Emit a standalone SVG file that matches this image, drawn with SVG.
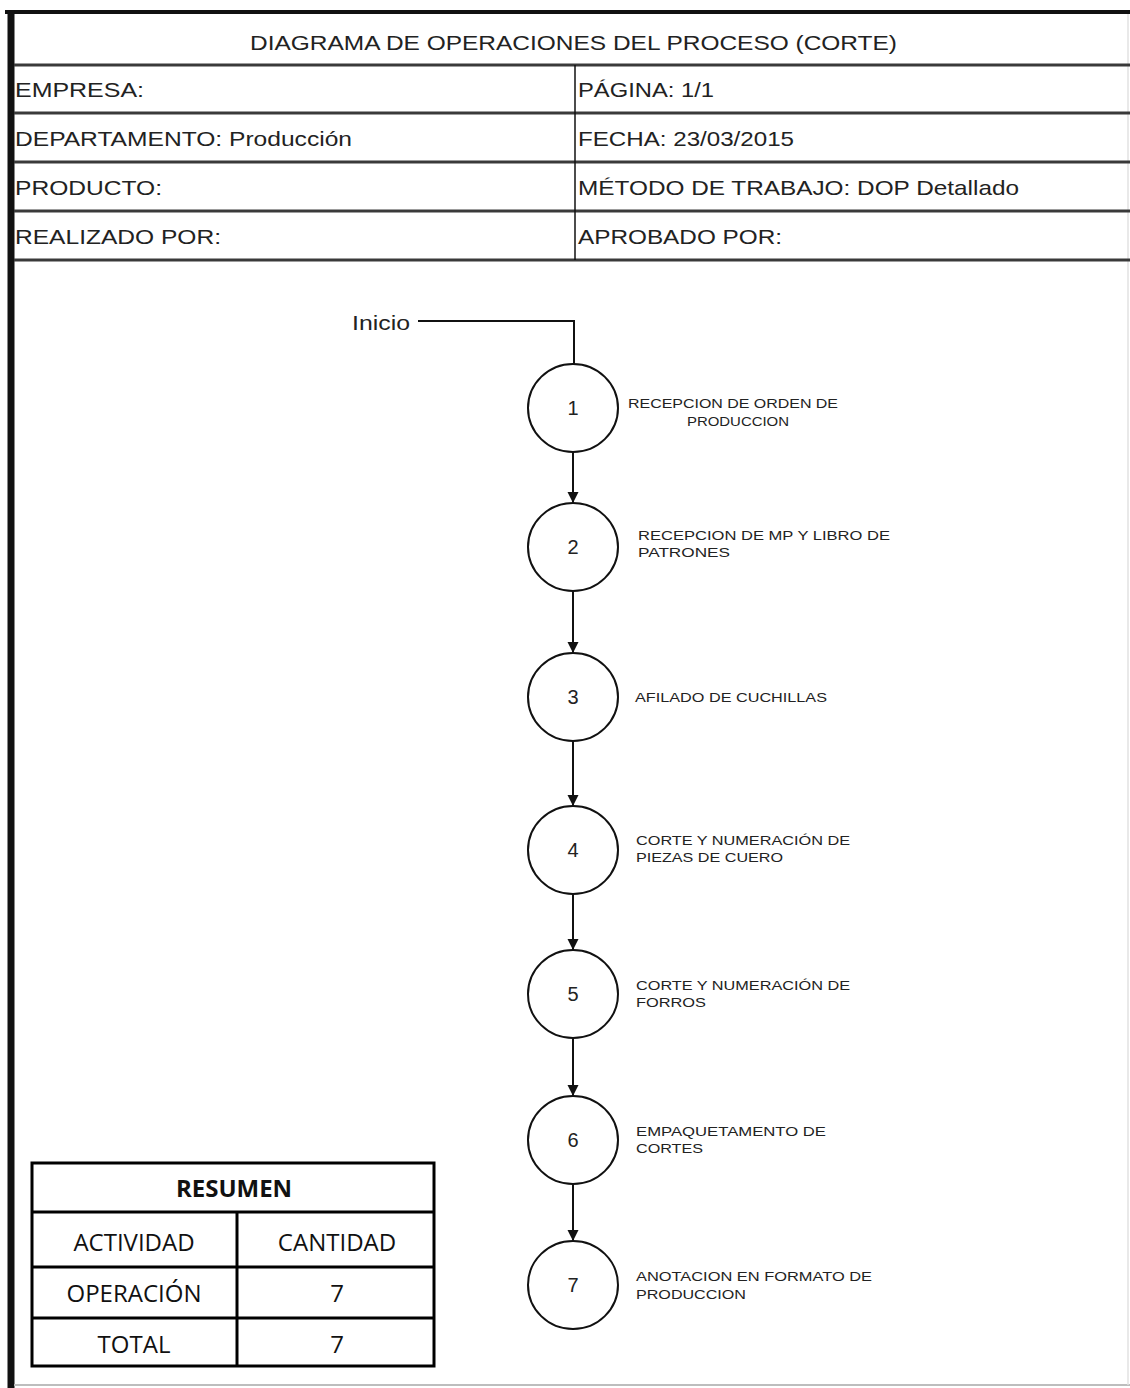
<svg xmlns="http://www.w3.org/2000/svg" width="1130" height="1388" viewBox="0 0 1130 1388">
  <style>
    .hdr { font-family: "Liberation Sans", Arial, sans-serif; font-size: 21px; fill: #222; }
    .lbl { font-family: "Liberation Sans", Arial, sans-serif; font-size: 13.5px; fill: #222; }
    .num { font-family: "Liberation Sans", Arial, sans-serif; font-size: 20px; fill: #222; text-anchor: middle; }
    .op { fill: #fff; stroke: #111; stroke-width: 2; }
    .rule { stroke: #3a3a3a; stroke-width: 3; }
    .flow { stroke: #111; stroke-width: 2; fill: none; }
    .tb { font-family: "Open Sans", "Noto Sans", sans-serif; font-size: 24px; fill: #111; text-anchor: middle; }
    .tline { stroke: #000; stroke-width: 3; fill: none; }
  </style>
  <defs>
    <marker id="arrow" viewBox="0 0 10 10" refX="10" refY="5" markerUnits="userSpaceOnUse" markerWidth="11" markerHeight="15" orient="auto">
      <path d="M0,0 L10,5 L0,10 z" fill="#111"/>
    </marker>
  </defs>

  <rect x="0" y="0" width="1130" height="1388" fill="#fff"/>

  <!-- page frame -->
  <g id="frame">
    <line x1="5" y1="12" x2="1130" y2="12" stroke="#111" stroke-width="4"/>
    <line x1="11" y1="10" x2="11" y2="1388" stroke="#111" stroke-width="7"/>
    <line x1="14" y1="1385" x2="1130" y2="1385" stroke="#bdbdbd" stroke-width="2"/>
    <line x1="1128" y1="14" x2="1128" y2="1385" stroke="#e2e2e2" stroke-width="1.5"/>
  </g>

  <!-- header block -->
  <g id="header">
    <line class="rule" x1="14" y1="65" x2="1130" y2="65"/>
    <line class="rule" x1="14" y1="113" x2="1130" y2="113"/>
    <line class="rule" x1="14" y1="162" x2="1130" y2="162"/>
    <line class="rule" x1="14" y1="211" x2="1130" y2="211"/>
    <line class="rule" x1="14" y1="260" x2="1130" y2="260"/>
    <line x1="575" y1="65" x2="575" y2="260" stroke="#111" stroke-width="1.5"/>
    <text class="hdr" x="250" y="50" textLength="647" lengthAdjust="spacingAndGlyphs">DIAGRAMA DE OPERACIONES DEL PROCESO (CORTE)</text>
    <text class="hdr" x="15" y="97" textLength="129" lengthAdjust="spacingAndGlyphs">EMPRESA:</text>
    <text class="hdr" x="15" y="146" textLength="337" lengthAdjust="spacingAndGlyphs">DEPARTAMENTO: Producción</text>
    <text class="hdr" x="15" y="195" textLength="147" lengthAdjust="spacingAndGlyphs">PRODUCTO:</text>
    <text class="hdr" x="15" y="244" textLength="206" lengthAdjust="spacingAndGlyphs">REALIZADO POR:</text>
    <text class="hdr" x="578" y="97" textLength="136" lengthAdjust="spacingAndGlyphs">PÁGINA: 1/1</text>
    <text class="hdr" x="578" y="146" textLength="216" lengthAdjust="spacingAndGlyphs">FECHA: 23/03/2015</text>
    <text class="hdr" x="578" y="195" textLength="441" lengthAdjust="spacingAndGlyphs">MÉTODO DE TRABAJO: DOP Detallado</text>
    <text class="hdr" x="578" y="244" textLength="204" lengthAdjust="spacingAndGlyphs">APROBADO POR:</text>
  </g>

  <!-- flow connectors -->
  <g id="connectors">
    <text class="hdr" x="352" y="330" textLength="58" lengthAdjust="spacingAndGlyphs">Inicio</text>
    <polyline class="flow" points="418,321 574,321 574,364"/>
    <line class="flow" x1="573" y1="452" x2="573" y2="503" marker-end="url(#arrow)"/>
    <line class="flow" x1="573" y1="591" x2="573" y2="653" marker-end="url(#arrow)"/>
    <line class="flow" x1="573" y1="741" x2="573" y2="806" marker-end="url(#arrow)"/>
    <line class="flow" x1="573" y1="894" x2="573" y2="950" marker-end="url(#arrow)"/>
    <line class="flow" x1="573" y1="1038" x2="573" y2="1096" marker-end="url(#arrow)"/>
    <line class="flow" x1="573" y1="1184" x2="573" y2="1241" marker-end="url(#arrow)"/>
  </g>

  <!-- operations -->
  <g id="op1">
    <ellipse class="op" cx="573" cy="408" rx="45" ry="44"/>
    <text class="num" x="573" y="415">1</text>
    <text class="lbl" x="628" y="408" textLength="210" lengthAdjust="spacingAndGlyphs">RECEPCION DE ORDEN DE</text>
    <text class="lbl" x="687" y="426" textLength="102" lengthAdjust="spacingAndGlyphs">PRODUCCION</text>
  </g>
  <g id="op2">
    <ellipse class="op" cx="573" cy="547" rx="45" ry="44"/>
    <text class="num" x="573" y="554">2</text>
    <text class="lbl" x="638" y="540" textLength="252" lengthAdjust="spacingAndGlyphs">RECEPCION DE MP Y LIBRO DE</text>
    <text class="lbl" x="638" y="557" textLength="92" lengthAdjust="spacingAndGlyphs">PATRONES</text>
  </g>
  <g id="op3">
    <ellipse class="op" cx="573" cy="697" rx="45" ry="44"/>
    <text class="num" x="573" y="704">3</text>
    <text class="lbl" x="635" y="702" textLength="192" lengthAdjust="spacingAndGlyphs">AFILADO DE CUCHILLAS</text>
  </g>
  <g id="op4">
    <ellipse class="op" cx="573" cy="850" rx="45" ry="44"/>
    <text class="num" x="573" y="857">4</text>
    <text class="lbl" x="636" y="845" textLength="214" lengthAdjust="spacingAndGlyphs">CORTE Y NUMERACIÓN DE</text>
    <text class="lbl" x="636" y="862" textLength="147" lengthAdjust="spacingAndGlyphs">PIEZAS DE CUERO</text>
  </g>
  <g id="op5">
    <ellipse class="op" cx="573" cy="994" rx="45" ry="44"/>
    <text class="num" x="573" y="1001">5</text>
    <text class="lbl" x="636" y="990" textLength="214" lengthAdjust="spacingAndGlyphs">CORTE Y NUMERACIÓN DE</text>
    <text class="lbl" x="636" y="1007" textLength="70" lengthAdjust="spacingAndGlyphs">FORROS</text>
  </g>
  <g id="op6">
    <ellipse class="op" cx="573" cy="1140" rx="45" ry="44"/>
    <text class="num" x="573" y="1147">6</text>
    <text class="lbl" x="636" y="1136" textLength="190" lengthAdjust="spacingAndGlyphs">EMPAQUETAMENTO DE</text>
    <text class="lbl" x="636" y="1153" textLength="67" lengthAdjust="spacingAndGlyphs">CORTES</text>
  </g>
  <g id="op7">
    <ellipse class="op" cx="573" cy="1285" rx="45" ry="44"/>
    <text class="num" x="573" y="1292">7</text>
    <text class="lbl" x="636" y="1281" textLength="236" lengthAdjust="spacingAndGlyphs">ANOTACION EN FORMATO DE</text>
    <text class="lbl" x="636" y="1299" textLength="110" lengthAdjust="spacingAndGlyphs">PRODUCCION</text>
  </g>

  <!-- summary table -->
  <g id="resumen">
    <rect x="32" y="1163" width="402" height="203" fill="#fff" stroke="#000" stroke-width="3"/>
    <line class="tline" x1="32" y1="1212" x2="434" y2="1212" stroke-width="4"/>
    <line class="tline" x1="32" y1="1267" x2="434" y2="1267" stroke-width="2"/>
    <line class="tline" x1="32" y1="1318" x2="434" y2="1318" stroke-width="4"/>
    <line class="tline" x1="237" y1="1212" x2="237" y2="1366"/>
    <text class="tb" x="234" y="1197" font-weight="bold">RESUMEN</text>
    <text class="tb" x="134" y="1251">ACTIVIDAD</text>
    <text class="tb" x="337" y="1251">CANTIDAD</text>
    <text class="tb" x="134" y="1302">OPERACIÓN</text>
    <text class="tb" x="337" y="1302">7</text>
    <text class="tb" x="134" y="1353">TOTAL</text>
    <text class="tb" x="337" y="1353">7</text>
  </g>
</svg>
